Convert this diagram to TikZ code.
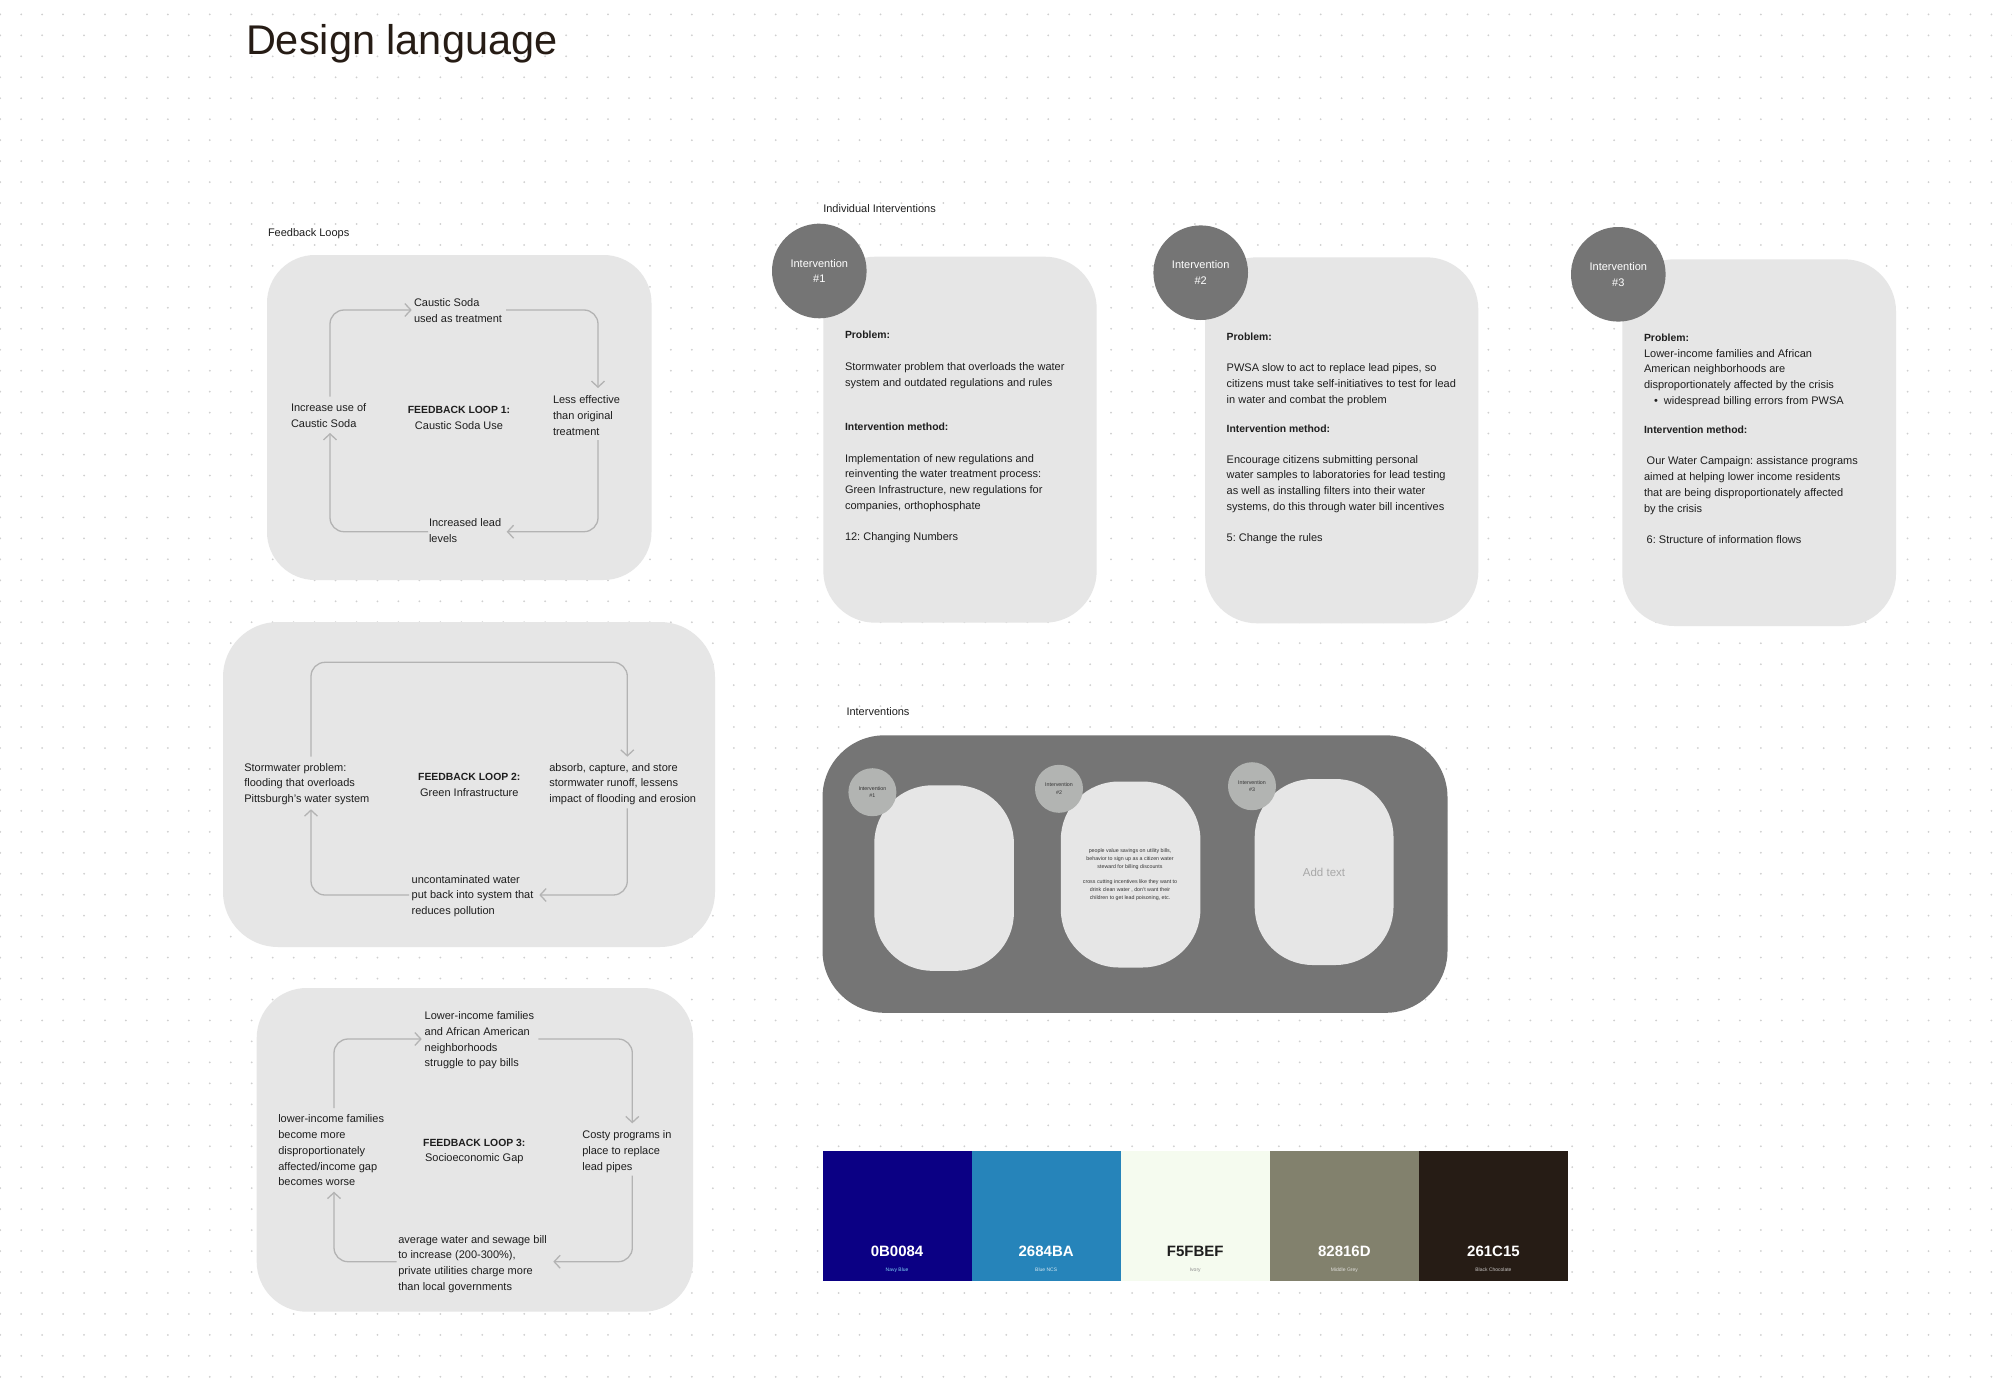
\documentclass[tikz,border=0pt]{standalone}
\usepackage{fontspec}
\setmainfont{Liberation Sans}
\usetikzlibrary{arrows.meta}
\definecolor{txt}{HTML}{1E1E1E}
\definecolor{boxc}{HTML}{E6E6E6}
\definecolor{linec}{HTML}{B3B3B3}
\definecolor{darkc}{HTML}{757575}
\definecolor{lightc}{HTML}{B2B4B2}
\definecolor{dotc}{HTML}{CFCFCF}
\definecolor{addc}{HTML}{A8A8A8}
\definecolor{sw1}{HTML}{0B0084}
\definecolor{sw2}{HTML}{2684BA}
\definecolor{sw3}{HTML}{F5FBEF}
\definecolor{sw4}{HTML}{82816D}
\definecolor{sw5}{HTML}{261C15}
\newcommand\fbody{\fontsize{11}{15.7}\selectfont}
\newcommand\fbold{\fontsize{10.4}{15.7}\selectfont\bfseries}
\newcommand\ftiny{\fontsize{5.3}{7.8}\selectfont}
\newcommand\linesL[1]{\begin{tabular}[t]{@{}l@{}}#1\end{tabular}}
\newcommand\linesC[1]{\begin{tabular}[t]{@{}c@{}}#1\end{tabular}}
\begin{document}
\frenchspacing
\begin{tikzpicture}[x=1pt,y=-1pt,
  every node/.style={inner sep=0pt,outer sep=0pt,text=txt},
  lbl/.style={font=\fbody,anchor=base west},
  hdr/.style={font=\fbold,anchor=base west},
  ctrlbl/.style={font=\fbody,anchor=base},
  panelbox/.style={fill=boxc,rounded corners=#1,anchor=north west},
  loopline/.style={draw=linec,line width=1.3pt,rounded corners=14pt,
    -{Straight Barb[length=6pt,width=13pt,line width=1.3pt]}},
  bigdot/.style={circle,fill=darkc,minimum size=94.6pt,align=center,
    font=\fbody,text=white},
  smalldot/.style={circle,fill=lightc,minimum size=48pt,align=center,
    font=\fontsize{5.3}{7.7}\selectfont,text=black!80},
  swatch/.style={anchor=north west,minimum width=149.1pt,minimum height=129.7pt},
  hex/.style={font=\fontsize{15}{18}\selectfont\bfseries,anchor=base},
  swname/.style={font=\fontsize{5}{6}\selectfont,anchor=base}
]
\useasboundingbox (0,0) rectangle (2012,1378);
\fill[white] (0,0) rectangle (2012,1378);
% dot grid
\foreach \j in {0,...,65} {
  \fill[dotc] foreach \i in {0,...,96} { (0.2+\i*20.96,14.4+\j*20.96) circle (1) };
}

% title
\node[font=\fontsize{41.5}{48}\selectfont,anchor=base west,text=sw5] (title) at (246,55) {Design language};

% ---------- Feedback loops ----------
\node[font=\fbody,anchor=base west] (fbh) at (268,236.6) {Feedback Loops};

% Loop 1
\node[panelbox=48pt,minimum width=384.5pt,minimum height=325pt] (fb1) at (267,255) {};
\node[lbl] (n1top) at (414,306.9) {\linesL{Caustic Soda\\used as treatment}};
\node[lbl] (n1right) at (553,403.9) {\linesL{Less effective\\than original\\treatment}};
\node[lbl] (n1bot) at (429,526.9) {\linesL{Increased lead\\levels}};
\node[lbl] (n1left) at (291,411.6) {\linesL{Increase use of\\Caustic Soda}};
\node[ctrlbl] (n1ctr) at (459,413.9) {\linesC{{\fbold FEEDBACK LOOP 1:}\\Caustic Soda Use}};
\coordinate (l1a) at (330,396.7); \coordinate (l1b) at (411.7,310);
\coordinate (l1c) at (506,310);   \coordinate (l1d) at (598,388);
\coordinate (l1e) at (598,440);   \coordinate (l1f) at (506.7,531.7);
\coordinate (l1g) at (428,531.7); \coordinate (l1h) at (330,433);
\draw[loopline] (l1a) |- (l1b);
\draw[loopline] (l1c) -| (l1d);
\draw[loopline] (l1e) |- (l1f);
\draw[loopline] (l1g) -| (l1h);

% Loop 2
\node[panelbox=55pt,minimum width=492pt,minimum height=325pt] (fb2) at (223,622) {};
\node[lbl] (n2left) at (244.3,771.2) {\linesL{Stormwater problem:\\flooding that overloads\\Pittsburgh’s water system}};
\node[ctrlbl] (n2ctr) at (469.3,780.6) {\linesC{{\fbold FEEDBACK LOOP 2:}\\Green Infrastructure}};
\node[lbl] (n2right) at (549.3,771.2) {\linesL{absorb, capture, and store\\stormwater runoff, lessens\\impact of flooding and erosion}};
\node[lbl] (n2bot) at (411.7,883.2) {\linesL{uncontaminated water\\put back into system that\\reduces pollution}};
\coordinate (l2a) at (311,756.7); \coordinate (l2m) at (469,662.3); \coordinate (l2b) at (627.3,756.7);
\coordinate (l2c) at (627.3,808.3); \coordinate (l2d) at (539.3,895);
\coordinate (l2e) at (409,895); \coordinate (l2f) at (311,809.3);
\draw[loopline] (l2a) |- (l2m) -| (l2b);
\draw[loopline] (l2c) |- (l2d);
\draw[loopline] (l2e) -| (l2f);

% Loop 3
\node[panelbox=50pt,minimum width=436.3pt,minimum height=323.7pt] (fb3) at (256.7,988) {};
\node[lbl] (n3top) at (424.7,1019.6) {\linesL{Lower-income families\\and African American\\neighborhoods\\struggle to pay bills}};
\node[lbl] (n3right) at (582.3,1138.9) {\linesL{Costy programs in\\place to replace\\lead pipes}};
\node[lbl] (n3bot) at (398.3,1243.2) {\linesL{average water and sewage bill\\to increase (200-300\%),\\private utilities charge more\\than local governments}};
\node[lbl] (n3left) at (278.3,1122.9) {\linesL{lower-income families\\become more\\disproportionately\\affected/income gap\\becomes worse}};
\node[ctrlbl] (n3ctr) at (474.3,1146.2) {\linesC{{\fbold FEEDBACK LOOP 3:}\\Socioeconomic Gap}};
\coordinate (l3a) at (334,1108); \coordinate (l3b) at (421.7,1039);
\coordinate (l3c) at (538.3,1039); \coordinate (l3d) at (632.3,1123.3);
\coordinate (l3e) at (632.3,1175.7); \coordinate (l3f) at (553.3,1261.7);
\coordinate (l3g) at (396.7,1261.7); \coordinate (l3h) at (334,1191.7);
\draw[loopline] (l3a) |- (l3b);
\draw[loopline] (l3c) -| (l3d);
\draw[loopline] (l3e) |- (l3f);
\draw[loopline] (l3g) -| (l3h);

% ---------- Individual interventions ----------
\node[font=\fbody,anchor=base west] (iih) at (823.3,212.9) {Individual Interventions};

\node[panelbox=52pt,minimum width=273.4pt,minimum height=366pt] (card1) at (823.3,256.7) {};
\node[panelbox=52pt,minimum width=273.3pt,minimum height=366pt] (card2) at (1205,257.3) {};
\node[panelbox=52pt,minimum width=273.7pt,minimum height=366.7pt] (card3) at (1622.3,259.3) {};
\node[bigdot] (circ1) at (819.3,271) {Intervention\\\#1};
\node[bigdot] (circ2) at (1200.7,272.7) {Intervention\\\#2};
\node[bigdot] (circ3) at (1618.3,274.3) {Intervention\\\#3};

% card 1
\node[hdr] (c1p) at (845,338.9) {Problem:};
\node[lbl] (c1pt) at (845,370.6) {\linesL{Stormwater problem that overloads the water\\system and outdated regulations and rules}};
\node[hdr] (c1m) at (845,430.6) {Intervention method:};
\node[lbl] (c1mt) at (845,462.2) {\linesL{Implementation of new regulations and\\reinventing the water treatment process:\\Green Infrastructure, new regulations for\\companies, orthophosphate}};
\node[lbl] (c1l) at (845,540.6) {12: Changing Numbers};
% card 2
\node[hdr] (c2p) at (1226.7,340.6) {Problem:};
\node[lbl] (c2pt) at (1226.7,371.6) {\linesL{PWSA slow to act to replace lead pipes, so\\citizens must take self-initiatives to test for lead\\in water and combat the problem}};
\node[hdr] (c2m) at (1226.7,432.2) {Intervention method:};
\node[lbl] (c2mt) at (1226.7,463.2) {\linesL{Encourage citizens submitting personal\\water samples to laboratories for lead testing\\as well as installing filters into their water\\systems, do this through water bill incentives}};
\node[lbl] (c2l) at (1226.7,541.6) {5: Change the rules};
% card 3
\node[hdr] (c3p) at (1644,341.6) {Problem:};
\node[lbl] (c3pt) at (1644,357.2) {\linesL{Lower-income families and African\\American neighborhoods are\\disproportionately affected by the crisis}};
\node[lbl] (c3b) at (1654,404.9) {\textbullet\ \ widespread billing errors from PWSA};
\node[hdr] (c3m) at (1644,433.9) {Intervention method:};
\node[lbl] (c3mt) at (1644,464.9) {\linesL{\hspace{2.7pt}Our Water Campaign: assistance programs\\aimed at helping lower income residents\\that are being disproportionately affected\\by the crisis}};
\node[lbl] (c3l) at (1646.7,543.9) {6: Structure of information flows};

% ---------- Interventions panel ----------
\node[font=\fbody,anchor=base west] (inh) at (846.5,715.3) {Interventions};
\node[panelbox=62pt,fill=darkc,minimum width=625pt,minimum height=277.5pt] (panel) at (822.5,735.3) {};
\node[panelbox=58pt,minimum width=139.6pt,minimum height=185.5pt] (ic1) at (874.3,785.3) {};
\node[panelbox=58pt,minimum width=139.6pt,minimum height=186pt] (ic2) at (1060.8,781.5) {};
\node[panelbox=58pt,minimum width=138.8pt,minimum height=186pt] (ic3) at (1254.7,779) {};
\node[smalldot] (sc1) at (872.4,792.2) {Intervention\\\#1};
\node[smalldot] (sc2) at (1059,788.8) {Intervention\\\#2};
\node[smalldot] (sc3) at (1252,786.2) {Intervention\\\#3};
\node[font=\ftiny,align=center,text=black!80] (ic2t) at (1130,874.7)
  {people value savings on utility bills,\\behavior to sign up as a citizen water\\steward for billing discounts\\[7.8pt]cross cutting incentives like they want to\\drink clean water , don’t want their\\children to get lead poisoning, etc.};
\node[font=\fontsize{11.5}{14}\selectfont,text=addc] (ic3t) at (1324,872.3) {Add text};

% ---------- Palette ----------
\node[swatch,fill=sw1] (s1) at (822.5,1151) {};
\node[swatch,fill=sw2] (s2) at (971.6,1151) {};
\node[swatch,fill=sw3] (s3) at (1120.7,1151) {};
\node[swatch,fill=sw4] (s4) at (1269.8,1151) {};
\node[swatch,fill=sw5] (s5) at (1418.9,1151) {};
\node[hex,text=white] (h1) at (897.05,1256.2) {0B0084};
\node[hex,text=white] (h2) at (1046.15,1256.2) {2684BA};
\node[hex,text=txt] (h3) at (1195.25,1256.2) {F5FBEF};
\node[hex,text=white] (h4) at (1344.35,1256.2) {82816D};
\node[hex,text=white] (h5) at (1493.45,1256.2) {261C15};
\node[swname,text=cyan!50!white] (t1) at (897.05,1271.8) {Navy Blue};
\node[swname,text=white!80!sw2] (t2) at (1046.15,1271.8) {Blue NCS};
\node[swname,text=black!45] (t3) at (1195.25,1271.8) {Ivory};
\node[swname,text=white!75!sw4] (t4) at (1344.35,1271.8) {Middle Grey};
\node[swname,text=white!75!sw5] (t5) at (1493.45,1271.8) {Black Chocolate};
\end{tikzpicture}
\end{document}
